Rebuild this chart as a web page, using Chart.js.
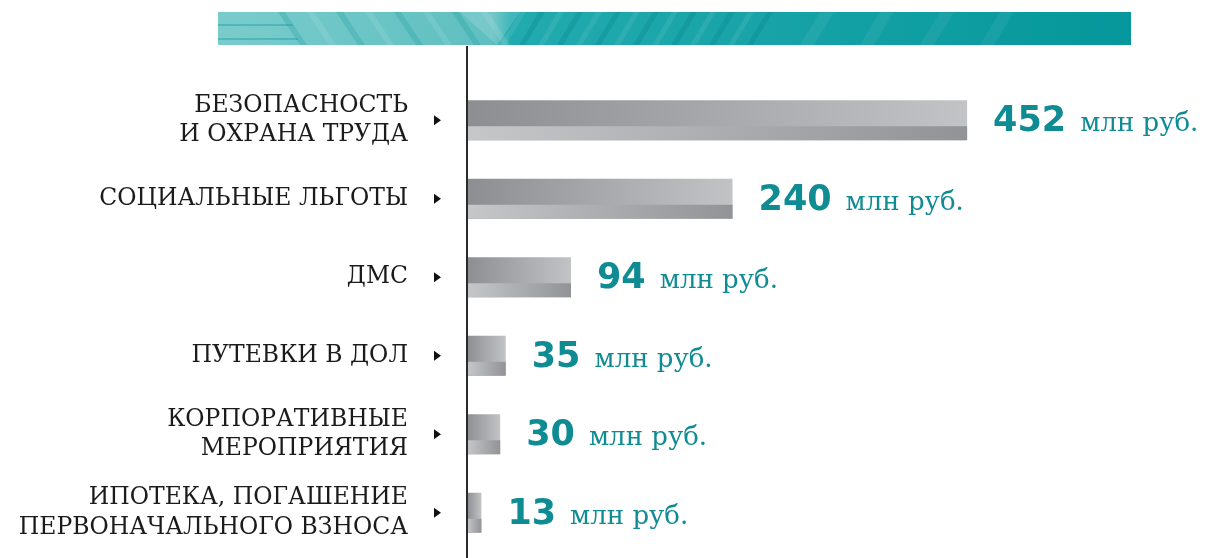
<!DOCTYPE html>
<html>
<head>
<meta charset="utf-8">
<script src="https://cdn.jsdelivr.net/npm/chart.js@4"></script>
<style>
  html, body { margin: 0; padding: 0; background: #ffffff; }
  #c { display: block; }
</style>
</head>
<body>
<canvas id="c" width="1205" height="558"></canvas>
<script>
// data
const categories = [
  ['БЕЗОПАСНОСТЬ', 'И ОХРАНА ТРУДА'],
  'СОЦИАЛЬНЫЕ ЛЬГОТЫ',
  'ДМС',
  'ПУТЕВКИ В ДОЛ',
  ['КОРПОРАТИВНЫЕ', 'МЕРОПРИЯТИЯ'],
  ['ИПОТЕКА, ПОГАШЕНИЕ', 'ПЕРВОНАЧАЛЬНОГО ВЗНОСА']
];
const values = [452, 240, 94, 35, 30, 13];
const unitLabel = 'млн руб.';

const TEAL = '#0f8b93';

// teal striped band across the top
const bannerPlugin = {
  id: 'banner',
  beforeDraw(chart) {
    const c = chart.ctx;
    const x0 = 218, x1 = 1131, y0 = 12, y1 = 45;
    c.save();
    c.beginPath();
    c.rect(x0, y0, x1 - x0, y1 - y0);
    c.clip();
    const g = c.createLinearGradient(x0, 0, x1, 0);
    g.addColorStop(0, '#7acccc');
    g.addColorStop(0.3, '#5fbfc0');
    g.addColorStop(0.32, '#22abae');
    g.addColorStop(0.6, '#17a3a7');
    g.addColorStop(1, '#05979b');
    c.fillStyle = g;
    c.fillRect(x0, y0, x1 - x0, y1 - y0);

    // horizontal bands on the left
    c.fillStyle = 'rgba(30,160,165,0.45)';
    c.fillRect(x0, 24, 75, 2);
    c.fillRect(x0, 38, 80, 2);

    // "\" stripes
    for (let i = 0; i < 8; i++) {
      const sx = 278 + i * 29;
      c.fillStyle = i % 2 ? 'rgba(255,255,255,0.10)' : 'rgba(20,150,155,0.25)';
      c.beginPath();
      c.moveTo(sx, y0); c.lineTo(sx + 7, y0);
      c.lineTo(sx + 7 + 22, y1); c.lineTo(sx + 22, y1);
      c.closePath(); c.fill();
    }
    // light wedge in the middle
    c.fillStyle = 'rgba(255,255,255,0.15)';
    c.beginPath();
    c.moveTo(460, y0); c.lineTo(520, y0); c.lineTo(497, y1); c.closePath(); c.fill();

    // "/" stripes
    for (let i = 0; i < 14; i++) {
      const sx = 500 + i * 19;
      c.fillStyle = i % 2 ? 'rgba(0,125,130,0.25)' : 'rgba(255,255,255,0.08)';
      c.beginPath();
      c.moveTo(sx, y1); c.lineTo(sx + 6, y1);
      c.lineTo(sx + 6 + 20, y0); c.lineTo(sx + 20, y0);
      c.closePath(); c.fill();
    }
    for (let i = 0; i < 4; i++) {
      const sx = 800 + i * 60;
      c.fillStyle = 'rgba(255,255,255,0.06)';
      c.beginPath();
      c.moveTo(sx, y1); c.lineTo(sx + 14, y1);
      c.lineTo(sx + 34, y0); c.lineTo(sx + 20, y0);
      c.closePath(); c.fill();
    }
    c.restore();
  }
};

// vertical axis line, arrows, reversed lower strip and value labels
const decorPlugin = {
  id: 'decor',
  afterDatasetsDraw(chart) {
    const c = chart.ctx;
    const xs = chart.scales.x;
    const ys = chart.scales.y;
    const meta = chart.getDatasetMeta(0);
    const x0 = xs.getPixelForValue(0);

    c.save();
    // lower strip of each bar, gradient reversed
    meta.data.forEach(bar => {
      const h = bar.height;
      const top = bar.y - h / 2 + h * 0.65;
      const bottom = bar.y + h / 2;
      const g = c.createLinearGradient(bar.base, 0, bar.x, 0);
      g.addColorStop(0, '#c6c7c9');
      g.addColorStop(1, '#929397');
      c.fillStyle = g;
      c.fillRect(bar.base, top, bar.x - bar.base, bottom - top);
    });

    // axis line
    c.strokeStyle = '#2b2b2b';
    c.lineWidth = 2;
    c.beginPath();
    c.moveTo(x0, 46);
    c.lineTo(x0, 558);
    c.stroke();

    // small arrows next to the labels
    c.fillStyle = '#111111';
    categories.forEach((_, i) => {
      const y = ys.getPixelForValue(i);
      c.beginPath();
      c.moveTo(434, y - 5);
      c.lineTo(441, y);
      c.lineTo(434, y + 5);
      c.closePath();
      c.fill();
    });

    // value labels
    c.textBaseline = 'alphabetic';
    c.textAlign = 'left';
    meta.data.forEach((bar, i) => {
      const txt = String(values[i]);
      const bx = bar.x + 26;
      const by = bar.y + 11;
      c.fillStyle = TEAL;
      c.font = 'bold 35px "DejaVu Sans"';
      c.fillText(txt, bx, by);
      const w = c.measureText(txt).width;
      c.font = '26px "DejaVu Serif"';
      c.fillText(unitLabel, bx + w + 14, by);
    });
    c.restore();
  }
};

new Chart(document.getElementById('c'), {
  type: 'bar',
  data: {
    labels: categories,
    datasets: [{
      data: values,
      backgroundColor: ctx => {
        const chart = ctx.chart;
        if (!chart.chartArea || ctx.dataIndex === undefined) return '#a0a1a4';
        const xs = chart.scales.x;
        const a = xs.getPixelForValue(0);
        const b = xs.getPixelForValue(values[ctx.dataIndex]);
        const g = chart.ctx.createLinearGradient(a, 0, b, 0);
        g.addColorStop(0, '#8d8e92');
        g.addColorStop(1, '#c2c3c5');
        return g;
      },
      borderWidth: 0,
      barPercentage: 1,
      categoryPercentage: 0.51
    }]
  },
  options: {
    responsive: false,
    animation: false,
    indexAxis: 'y',
    layout: { padding: { top: 81, bottom: 6, left: 0, right: 0 } },
    plugins: {
      legend: { display: false },
      tooltip: { enabled: false }
    },
    scales: {
      x: {
        display: false,
        min: 0,
        max: 667
      },
      y: {
        grid: { display: false, drawTicks: false },
        border: { display: false },
        afterFit: s => { s.width = 467; s.paddingTop = 0; s.paddingBottom = 0; },
        ticks: {
          padding: 59,
          color: '#1b1b1b',
          font: { family: 'DejaVu Serif', size: 23.5, lineHeight: 1.25 }
        }
      }
    }
  },
  plugins: [bannerPlugin, decorPlugin]
});
</script>
</body>
</html>
